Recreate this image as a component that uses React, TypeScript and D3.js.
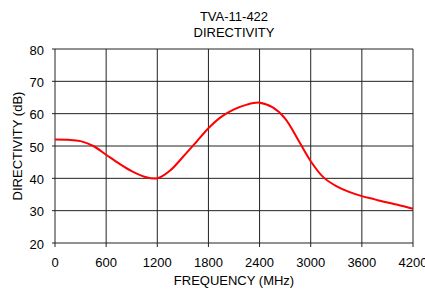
import { useEffect, useRef } from 'react';
import * as d3 from 'd3';

// frequency (MHz)
const frequencies = [
  0, 150, 300, 450, 600, 750, 900, 1050, 1200, 1350, 1500, 1650, 1800, 1950, 2100,
  2250, 2400, 2550, 2700, 2850, 3000, 3150, 3300, 3450, 3600, 3750, 3900, 4050, 4200,
];
// directivity (dB)
const directivity = [
  52.0, 51.9, 51.5, 50.0, 47.3, 44.6, 42.2, 40.5, 40.0, 42.4, 46.6, 51.0, 55.5, 59.0, 61.3,
  62.8, 63.4, 62.0, 58.5, 52.0, 45.3, 40.3, 37.6, 35.8, 34.5, 33.5, 32.5, 31.6, 30.6,
];

const xTicks = [0, 600, 1200, 1800, 2400, 3000, 3600, 4200];
const yTicks = [20, 30, 40, 50, 60, 70, 80];

const titleLines = ['TVA-11-422', 'DIRECTIVITY'];
const xTitle = 'FREQUENCY (MHz)';
const yTitle = 'DIRECTIVITY (dB)';

const WIDTH = 425;
const HEIGHT = 291;

export default function App() {
  const svgRef = useRef<SVGSVGElement>(null);

  useEffect(() => {
    if (!svgRef.current) return;
    const svg = d3.select(svgRef.current);
    svg.selectAll('*').remove();

    const margin = { top: 49, right: 12, bottom: 48, left: 55 };
    const innerWidth = WIDTH - margin.left - margin.right;
    const innerHeight = HEIGHT - margin.top - margin.bottom;
    const font = '"Liberation Sans", Arial, sans-serif';

    const xScale = d3.scaleLinear().domain([0, 4200]).range([0, innerWidth]);
    const yScale = d3.scaleLinear().domain([20, 80]).range([innerHeight, 0]);

    svg.append('rect').attr('width', WIDTH).attr('height', HEIGHT).attr('fill', '#fff');

    const g = svg.append('g').attr('transform', `translate(${margin.left},${margin.top})`);

    // grid
    g.selectAll('.grid-h')
      .data(yTicks)
      .enter()
      .append('line')
      .attr('x1', -3)
      .attr('x2', innerWidth)
      .attr('y1', (d) => yScale(d))
      .attr('y2', (d) => yScale(d))
      .attr('stroke', '#222')
      .attr('stroke-width', 1);

    g.selectAll('.grid-v')
      .data(xTicks)
      .enter()
      .append('line')
      .attr('x1', (d) => xScale(d))
      .attr('x2', (d) => xScale(d))
      .attr('y1', 0)
      .attr('y2', innerHeight + 4)
      .attr('stroke', '#222')
      .attr('stroke-width', 1);

    // tick labels
    g.selectAll('.ytl')
      .data(yTicks)
      .enter()
      .append('text')
      .attr('x', -11)
      .attr('y', (d) => yScale(d) + 1)
      .attr('text-anchor', 'end')
      .attr('dominant-baseline', 'central')
      .attr('font-family', font)
      .attr('font-size', 13)
      .attr('fill', '#000')
      .text((d) => d);

    g.selectAll('.xtl')
      .data(xTicks)
      .enter()
      .append('text')
      .attr('x', (d) => xScale(d))
      .attr('y', innerHeight + 24)
      .attr('text-anchor', 'middle')
      .attr('font-family', font)
      .attr('font-size', 13)
      .attr('fill', '#000')
      .text((d) => d);

    // curve
    const points = frequencies.map((f, i) => [f, directivity[i]] as [number, number]);
    const line = d3
      .line<[number, number]>()
      .x((d) => xScale(d[0]))
      .y((d) => yScale(d[1]))
      .curve(d3.curveCatmullRom.alpha(0.5));

    g.append('path')
      .datum(points)
      .attr('fill', 'none')
      .attr('stroke', '#ff0000')
      .attr('stroke-width', 2)
      .attr('d', line);

    // titles
    titleLines.forEach((t, i) => {
      svg
        .append('text')
        .attr('x', margin.left + innerWidth / 2)
        .attr('y', 21 + i * 16)
        .attr('text-anchor', 'middle')
        .attr('font-family', font)
        .attr('font-size', 13)
        .attr('fill', '#000')
        .text(t);
    });

    svg
      .append('text')
      .attr('x', margin.left + innerWidth / 2)
      .attr('y', 285)
      .attr('text-anchor', 'middle')
      .attr('font-family', font)
      .attr('font-size', 13)
      .attr('fill', '#000')
      .text(xTitle);

    svg
      .append('text')
      .attr('transform', `translate(22,${margin.top + innerHeight / 2}) rotate(-90)`)
      .attr('text-anchor', 'middle')
      .attr('font-family', font)
      .attr('font-size', 13)
      .attr('fill', '#000')
      .text(yTitle);
  }, []);

  return (
    <svg
      ref={svgRef}
      width={WIDTH}
      height={HEIGHT}
      style={{ position: 'absolute', left: 0, top: 0, display: 'block' }}
    />
  );
}
